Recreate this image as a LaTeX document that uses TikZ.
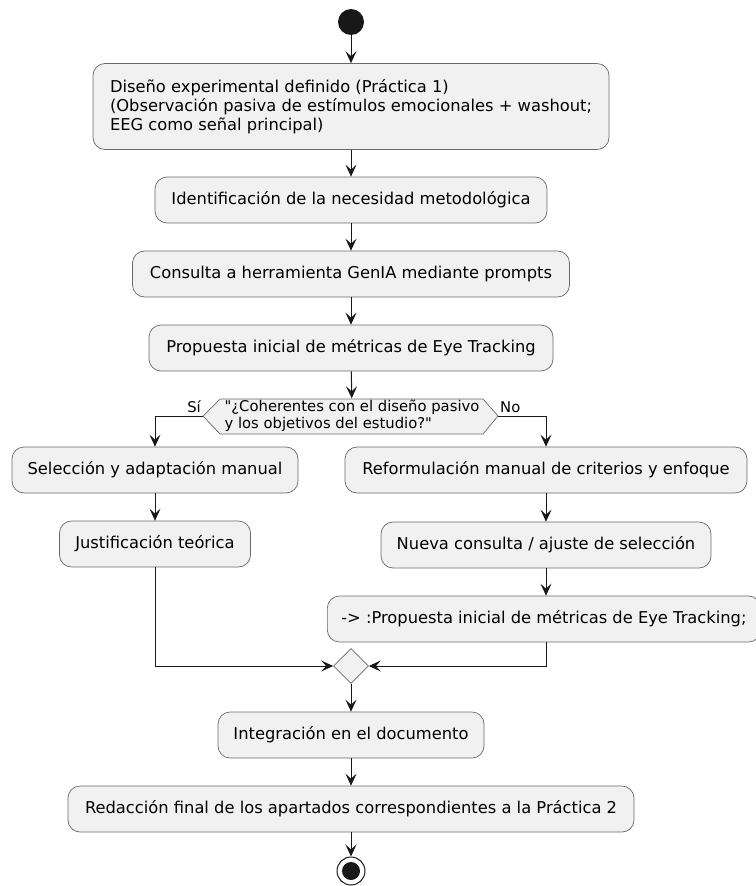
\documentclass[tikz,border=0pt]{standalone}
\usepackage{fontspec}
\setmainfont{DejaVu Sans}[Ligatures=ResetAll]
\newfontfamily\plainfont{DejaVu Sans}
\usepackage{tikz}
\usetikzlibrary{shapes.geometric, arrows.meta}
\definecolor{boxfill}{HTML}{F1F1F1}
\definecolor{lineclr}{HTML}{181818}

\tikzset{
  action/.style={draw=lineclr!65, fill=boxfill, rounded corners=12pt, line width=0.7pt,
    minimum height=46pt, inner xsep=14pt, font=\fontsize{16.3}{19}\selectfont},
  small/.style={font=\plainfont\fontsize{14.8}{17}\selectfont},
  flow/.style={draw=lineclr, line width=1pt, -{Stealth[length=12pt, width=11pt, inset=5pt]}},
}

\begin{document}
\begin{tikzpicture}[x=1pt, y=-1pt]
    \useasboundingbox (0,0) rectangle (755,886);

    % Start point
    \node[circle, fill=lineclr, minimum size=26pt, inner sep=0pt] (Start) at (351,22) {};

    % Main column
    \node[action, align=left, minimum width=516pt, minimum height=86pt] (Design) at (351,106.5)
        {Diseño experimental definido (Práctica 1)\\(Observación pasiva de estímulos emocionales + washout;\\EEG como señal principal)};
    \node[action, minimum width=392pt] (Need) at (351,200) {Identificación de la necesidad metodológica};
    \node[action, minimum width=437pt] (Query) at (351,274) {Consulta a herramienta GenIA mediante prompts};
    \node[action, minimum width=404pt] (Proposal) at (351,348) {Propuesta inicial de métricas de Eye Tracking};

    % Decision
    \coordinate (CheckL) at (203,416);
    \coordinate (CheckR) at (498,416);
    \draw[draw=lineclr!65, fill=boxfill, line width=0.7pt]
        (CheckL) -- (220,399) -- (483,399) -- (CheckR) -- (483,434) -- (220,434) -- cycle;
    \node[small, align=left, minimum height=35pt, inner sep=0pt] (Check) at (352,416)
        {"¿Coherentes con el diseño pasivo\\y los objetivos del estudio?"};
    \node[small, anchor=east, inner sep=1pt] (Yes) at (202,407) {Sí};
    \node[small, anchor=west, inner sep=1pt] (No) at (499,407) {No};

    % Left branch
    \node[action, minimum width=286pt] (Select) at (155,470) {Selección y adaptación manual};
    \node[action, minimum width=191pt] (Justify) at (155,544) {Justificación teórica};

    % Right branch
    \node[action, minimum width=402pt] (Reform) at (546,470) {Reformulación manual de criterios y enfoque};
    \node[action, minimum width=330pt] (Retry) at (546,545) {Nueva consulta / ajuste de selección};
    \node[action, anchor=west] (Repeat) at (327,619) {-> :Propuesta inicial de métricas de Eye Tracking;};

    % Merge and end
    \node[diamond, draw=lineclr!65, fill=boxfill, line width=0.7pt, minimum size=35pt, inner sep=0pt] (Merge) at (351,666) {};
    \node[action, minimum width=266pt] (Integrate) at (351,735) {Integración en el documento};
    \node[action, minimum width=566pt] (Write) at (351,809) {Redacción final de los apartados correspondientes a la Práctica 2};
    \node[circle, draw=lineclr, line width=1pt, fill=white, minimum size=28pt, inner sep=0pt] (End) at (351,871) {};
    \node[circle, fill=lineclr, minimum size=18pt, inner sep=0pt] (EndDot) at (End) {};

    % Connectors
    \draw[flow] (Start) -- (Design);
    \draw[flow] (Design) -- (Need);
    \draw[flow] (Need) -- (Query);
    \draw[flow] (Query) -- (Proposal);
    \draw[flow] (Proposal) -- (Check);
    \draw[flow] (CheckL) -| (Select);
    \draw[flow] (CheckR) -| (Reform);
    \draw[flow] (Select) -- (Justify);
    \draw[flow] (Reform) -- (Retry);
    \draw[flow] (Retry) -- (Retry |- Repeat.north);
    \draw[flow] (Justify) |- (Merge);
    \draw[flow] (Repeat.south -| Retry) |- (Merge);
    \draw[flow] (Merge) -- (Integrate);
    \draw[flow] (Integrate) -- (Write);
    \draw[flow] (Write) -- (End);
\end{tikzpicture}
\end{document}
